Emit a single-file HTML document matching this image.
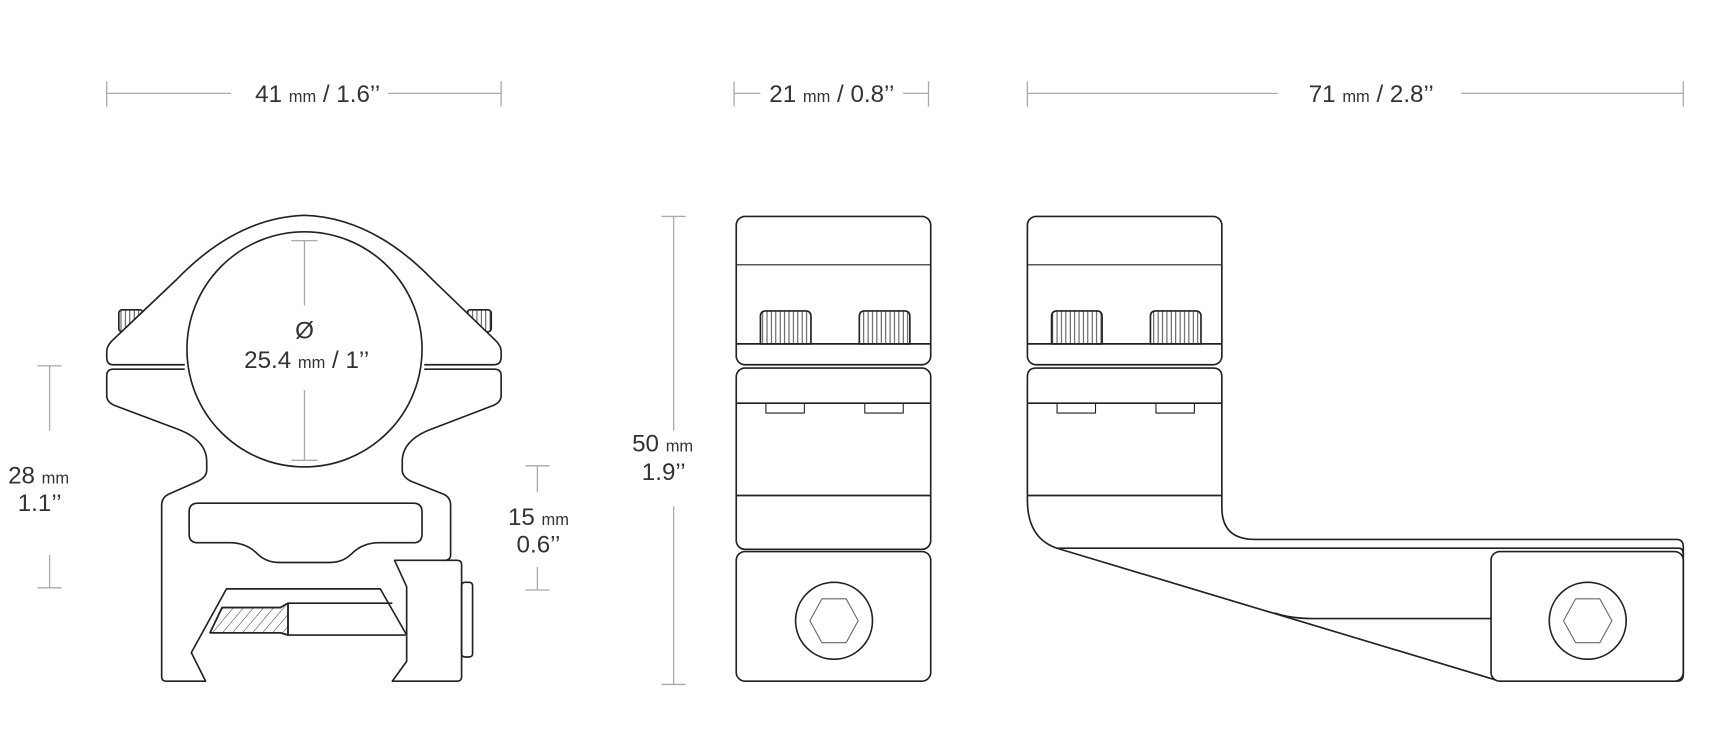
<!DOCTYPE html>
<html><head><meta charset="utf-8"><style>
html,body{margin:0;padding:0;background:#fff;}
svg{display:block;}
text{font-family:"Liberation Sans",sans-serif;fill:#333;}
</style></head><body>
<svg width="1723" height="735" viewBox="0 0 1568 669" xmlns="http://www.w3.org/2000/svg">
<defs>
<pattern id="vh" width="4" height="10" patternUnits="userSpaceOnUse"><line x1="2" y1="0" x2="2" y2="10" stroke="#333" stroke-width="0.8"/></pattern>
<pattern id="dh" width="7" height="7" patternUnits="userSpaceOnUse" patternTransform="rotate(40)"><line x1="0" y1="0" x2="0" y2="7" stroke="#333" stroke-width="0.9"/></pattern>
</defs>
<g stroke="#222" stroke-width="1.5" fill="none" stroke-linejoin="round">
<!-- left front view -->
<rect x="108" y="282" width="22" height="20" rx="3" fill="url(#vh)"/>
<rect x="425" y="282" width="22" height="20" rx="3" fill="url(#vh)"/>
<path d="M168,332 L103,332 Q97,332 97,325 L97,320 Q97,315 102,310 L160,255 Q215,198 277,196 Q339,198 394,255 L451,310 Q456,315 456,320 L456,325 Q456,332 449,332 L386,332" fill="#fff"/>
<circle cx="277" cy="318" r="107" fill="#fff"/>
<path d="M168,336 L103,336 Q97,336 97,342 L97,360 Q97,366 104,369 L160,390 Q188,400 188,420 L188,428 Q188,434 180,438 L153,450 Q147,453 147,460 L147,616 Q147,620 151,620 L187,620 L174,594 L206,536 L346,536 L370,578 L370,602 L357,620 L416,620 Q420,620 420,616 L420,514 Q420,510 416,510 L359,510 L370,534 L370,578"/>
<path d="M386,336 L450,336 Q456,336 456,342 L456,360 Q456,366 449,369 L394,390 Q366,400 366,420 L366,428 Q366,434 374,438 L404,450 Q410,453 410,460 L410,505 Q410,510 404,510"/>
<path d="M180,458 L376,458 Q384,458 384,466 L384,486 Q384,494 376,494 L345,494 Q330,494 320,504 Q312,512 300,512 L254,512 Q242,512 234,504 Q224,494 209,494 L180,494 Q172,494 172,486 L172,466 Q172,458 180,458Z"/>
<rect x="420" y="530" width="10" height="68" rx="3"/>
<path d="M191,576 L202,553 L255,553 L262,549 L357,549"/>
<polygon points="191,576 202,553 255,553 262,549 262,578 255,576" fill="url(#dh)"/>
<path d="M191,576 L255,576 L262,578 L369,578"/>
<line x1="262" y1="549" x2="262" y2="578"/>
<!-- middle side view -->
<rect x="670" y="197" width="177" height="135" rx="8"/>
<line x1="670" y1="241" x2="847" y2="241" stroke-width="1"/>
<line x1="670" y1="313" x2="847" y2="313"/>
<path d="M692,313 L692,288 Q692,283 697,283 L733,283 Q738,283 738,288 L738,313Z" fill="url(#vh)"/>
<path d="M782,313 L782,288 Q782,283 787,283 L823,283 Q828,283 828,288 L828,313Z" fill="url(#vh)"/>
<rect x="670" y="335" width="177" height="165" rx="8"/>
<line x1="670" y1="367" x2="847" y2="367"/><line x1="670" y1="451" x2="847" y2="451"/>
<path d="M697,367 L697,376 L732,376 L732,367 M787,367 L787,376 L822,376 L822,367" stroke-width="1"/>
<rect x="670" y="502" width="177" height="118" rx="8"/>
<ellipse cx="759" cy="565" rx="35" ry="35"/>
<polygon points="737,565 748,545 770,545 781,565 770,585 748,585" stroke="#666" stroke-width="1"/>
<!-- right side view -->
<rect x="935" y="197" width="177" height="135" rx="8"/>
<line x1="935" y1="241" x2="1112" y2="241" stroke-width="1"/>
<line x1="935" y1="313" x2="1112" y2="313"/>
<path d="M957,313 L957,288 Q957,283 962,283 L998,283 Q1003,283 1003,288 L1003,313Z" fill="url(#vh)"/>
<path d="M1047,313 L1047,288 Q1047,283 1052,283 L1088,283 Q1093,283 1093,288 L1093,313Z" fill="url(#vh)"/>
<path d="M943,335 L1104,335 Q1112,335 1112,343 L1112,462 Q1112,491 1142,491 L1526,491 Q1532,491 1532,498 L1532,614 Q1532,620 1526,620 L1365,620 L962,499 Q935,490 935,455 L935,343 Q935,335 943,335Z"/>
<line x1="935" y1="367" x2="1112" y2="367"/><line x1="935" y1="451" x2="1112" y2="451"/>
<path d="M962,367 L962,376 L997,376 L997,367 M1052,367 L1052,376 L1087,376 L1087,367" stroke-width="1"/>
<path d="M962,499 L1528,499 Q1532,499 1532,505"/>
<rect x="1357" y="502" width="175" height="118" rx="8" fill="#fff"/>
<path d="M1160,558 Q1175,563 1195,563 L1357,563"/>
<ellipse cx="1445" cy="565" rx="35" ry="35"/>
<polygon points="1423,565 1434,545 1456,545 1467,565 1456,585 1434,585" stroke="#666" stroke-width="1"/>
</g>
<!-- dimension lines -->
<g stroke="#aaa" stroke-width="1.2" fill="none">
<line x1="97" y1="85" x2="210" y2="85"/><line x1="353" y1="85" x2="456" y2="85"/>
<line x1="97" y1="74" x2="97" y2="97"/><line x1="456" y1="74" x2="456" y2="97"/>
<line x1="668" y1="85" x2="692" y2="85"/><line x1="822" y1="85" x2="845" y2="85"/>
<line x1="668" y1="74" x2="668" y2="97"/><line x1="845" y1="74" x2="845" y2="97"/>
<line x1="935" y1="85" x2="1163" y2="85"/><line x1="1330" y1="85" x2="1532" y2="85"/>
<line x1="935" y1="74" x2="935" y2="97"/><line x1="1532" y1="74" x2="1532" y2="97"/>
<line x1="45" y1="333" x2="45" y2="392"/><line x1="45" y1="505" x2="45" y2="535"/>
<line x1="34" y1="333" x2="56" y2="333"/><line x1="34" y1="535" x2="56" y2="535"/>
<line x1="277" y1="219" x2="277" y2="278"/><line x1="277" y1="355" x2="277" y2="419"/>
<line x1="265" y1="219" x2="289" y2="219"/><line x1="265" y1="419" x2="289" y2="419"/>
<line x1="489" y1="424" x2="489" y2="448"/><line x1="489" y1="516" x2="489" y2="537"/>
<line x1="478" y1="424" x2="500" y2="424"/><line x1="478" y1="537" x2="500" y2="537"/>
<line x1="613" y1="197" x2="613" y2="392"/><line x1="613" y1="461" x2="613" y2="623"/>
<line x1="602" y1="197" x2="624" y2="197"/><line x1="602" y1="623" x2="624" y2="623"/>
</g>
<!-- labels -->
<g font-size="22" text-anchor="middle">
<text x="289" y="93">41 <tspan font-size="15">mm</tspan> / 1.6’’</text>
<text x="757" y="93">21 <tspan font-size="15">mm</tspan> / 0.8’’</text>
<text x="1248" y="93">71 <tspan font-size="15">mm</tspan> / 2.8’’</text>
<text x="277" y="308">Ø</text>
<text x="279" y="335">25.4 <tspan font-size="15">mm</tspan> / 1’’</text>
<text x="35" y="440">28 <tspan font-size="15">mm</tspan></text>
<text x="36" y="465">1.1’’</text>
<text x="490" y="478">15 <tspan font-size="15">mm</tspan></text>
<text x="490" y="503">0.6’’</text>
<text x="603" y="411">50 <tspan font-size="15">mm</tspan></text>
<text x="604" y="437">1.9’’</text>
</g>
</svg>
</body></html>
